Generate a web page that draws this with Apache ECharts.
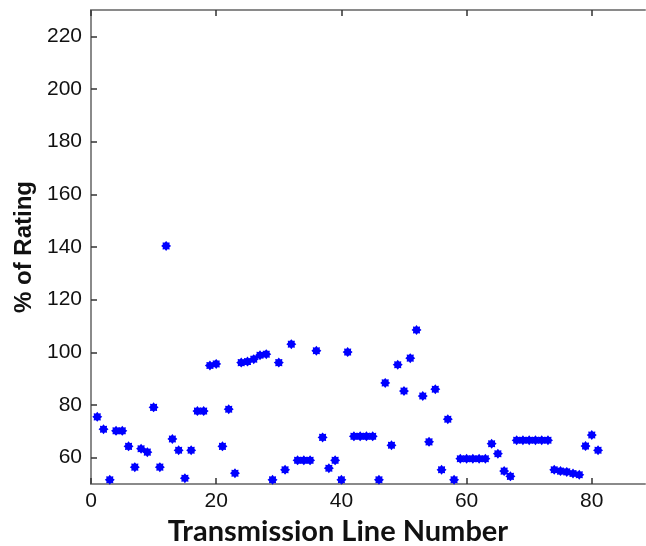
<!DOCTYPE html>
<html>
<head>
<meta charset="utf-8">
<script src="https://cdn.jsdelivr.net/npm/echarts@6/dist/echarts.min.js"></script>
<style>
  html, body { margin: 0; padding: 0; background: #fff; }
  #chart { width: 646px; height: 546px; }
</style>
</head>
<body>
<div id="chart"></div>
<script>
(function () {
    'use strict';

    // line numbers 1..81
    var lineNumbers = [];
    for (var n = 1; n <= 81; n++) { lineNumbers.push(n); }

    // % of rating
    var ratingValues = [
        75.5, 70.8, 51.6, 70.2, 70.2, 64.3, 56.4, 63.4, 62.1, 79.1,
        56.4, 140.4, 67.1, 62.8, 52.2, 62.8, 77.7, 77.7, 95.0, 95.6,
        64.3, 78.4, 54.1, 96.1, 96.5, 97.4, 98.9, 99.3, 51.6, 96.1,
        55.4, 103.1, 59.0, 59.0, 59.0, 100.6, 67.7, 56.0, 59.0, 51.6,
        100.1, 68.1, 68.1, 68.1, 68.1, 51.6, 88.4, 64.7, 95.3, 85.3,
        97.8, 108.5, 83.4, 66.0, 86.0, 55.4, 74.6, 51.6, 59.6, 59.6,
        59.6, 59.6, 59.6, 65.3, 61.5, 54.9, 52.9, 66.6, 66.6, 66.6,
        66.6, 66.6, 66.6, 55.4, 54.9, 54.6, 54.0, 53.5, 64.4, 68.6,
        62.8
    ];

    var xTicks = [0, 20, 40, 60, 80];
    var yTicks = [60, 80, 100, 120, 140, 160, 180, 200, 220];

    // spiky star marker like matlab '*'
    function starPath(points, outer, inner) {
        var d = '';
        for (var i = 0; i < points * 2; i++) {
            var r = i % 2 === 0 ? outer : inner;
            var a = Math.PI * i / points;
            d += (i === 0 ? 'M' : 'L') + (r * Math.sin(a)).toFixed(3) + ' ' + (-r * Math.cos(a)).toFixed(3);
        }
        return 'path://' + d + 'Z';
    }

    var data = lineNumbers.map(function (x, i) { return [x, ratingValues[i]]; });

    var axisGray = '#8a8a8a';
    var tickStyle = { color: '#333', width: 1.5 };
    var labelFont = { fontFamily: 'Liberation Sans', fontSize: 21, color: '#111' };

    var mychart = echarts.init(document.getElementById('chart'));
    mychart.setOption({
        animation: false,
        grid: { left: 91, top: 10, width: 554, height: 474, outerBoundsMode: 'none', containLabel: false },
        xAxis: [{
            type: 'value', min: 0, max: 88.5,
            name: 'Transmission Line Number', nameLocation: 'middle', nameGap: 30,
            nameTextStyle: { fontFamily: 'Lato', fontWeight: 'bold', fontSize: 29, color: '#111', padding: [0, 60, 0, 0] },
            axisLine: { lineStyle: { color: axisGray, width: 2 } },
            axisTick: { inside: true, length: 6, customValues: xTicks, lineStyle: tickStyle },
            axisLabel: Object.assign({ customValues: xTicks, margin: 7 }, labelFont),
            splitLine: { show: false }
        }, {
            type: 'value', min: 0, max: 88.5, position: 'top',
            axisLine: { lineStyle: { color: axisGray, width: 2 } },
            axisTick: { inside: true, length: 6, customValues: xTicks, lineStyle: tickStyle },
            axisLabel: { show: false },
            splitLine: { show: false }
        }],
        yAxis: {
            type: 'value', min: 50, max: 230,
            name: '% of Rating', nameLocation: 'middle', nameGap: 54,
            nameTextStyle: { fontFamily: 'Liberation Sans', fontWeight: 'bold', fontSize: 24, color: '#111' },
            axisLine: { lineStyle: { color: axisGray, width: 2 } },
            axisTick: { inside: true, length: 6, customValues: yTicks, lineStyle: tickStyle },
            axisLabel: Object.assign({ customValues: yTicks, margin: 9 }, labelFont),
            splitLine: { show: false }
        },
        series: [{
            type: 'scatter',
            data: data,
            symbol: starPath(8, 1, 0.72),
            symbolSize: 10,
            itemStyle: { color: '#0000ff', opacity: 1 }
        }]
    });
})();
</script>
</body>
</html>
